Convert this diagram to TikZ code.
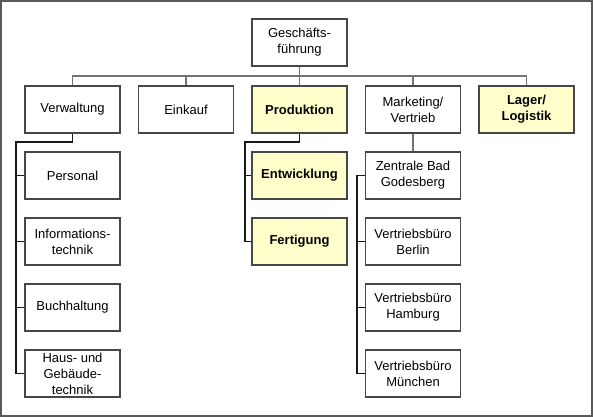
\documentclass[tikz,border=0pt]{standalone}
\usepackage{fontspec}
\setmainfont{Liberation Sans}
\usepackage{xcolor}
\definecolor{paleyellow}{HTML}{FFFFCC}

\tikzset{
  unitbox/.style={draw=black!72, line width=1.4pt, fill=white, minimum width=95pt,
    minimum height=47pt, inner sep=1pt, align=center,
    font=\fontsize{13}{16}\selectfont},
  keybox/.style={unitbox, fill=paleyellow, font=\fontsize{13}{16}\selectfont\bfseries},
  busline/.style={draw=black!55, line width=1.1pt},
  treeline/.style={draw=black!90, line width=1.3pt}
}

\begin{document}
\begin{tikzpicture}[x=1pt,y=-1pt]
    \useasboundingbox (0,0) rectangle (593,417);
    \draw[black!65, line width=1.2pt] (1,1) rectangle (592,416);

    %% top
    \node[unitbox] (gf) at (299.5,42.5) {Gesch\"afts-\\f\"uhrung};

    %% level 1
    \node[unitbox] (verw)  at (72.5,109.5)  {Verwaltung};
    \node[unitbox] (eink)  at (186,109.5)   {Einkauf};
    \node[keybox]  (prod)  at (299.5,109.5) {Produktion};
    \node[unitbox] (mark)  at (413,109.5)   {Marketing/\\Vertrieb};
    \node[keybox]  (lager) at (526.5,109.5) {Lager/\\Logistik};

    %% Verwaltung
    \node[unitbox] (pers) at (72.5,175.5) {Personal};
    \node[unitbox] (info) at (72.5,241.5) {Informations-\\technik};
    \node[unitbox] (buch) at (72.5,307.5) {Buchhaltung};
    \node[unitbox] (haus) at (72.5,373.5) {Haus- und\\Geb\"aude-\\technik};

    %% Produktion
    \node[keybox] (entw) at (299.5,175.5) {Entwicklung};
    \node[keybox] (fert) at (299.5,241.5) {Fertigung};

    %% Marketing/Vertrieb
    \node[unitbox] (zent) at (413,175.5) {Zentrale Bad\\Godesberg};
    \node[unitbox] (berl) at (413,241.5) {Vertriebsb\"uro\\Berlin};
    \node[unitbox] (hamb) at (413,307.5) {Vertriebsb\"uro\\Hamburg};
    \node[unitbox] (muen) at (413,373.5) {Vertriebsb\"uro\\M\"unchen};

    %% bus
    \coordinate (bus) at (299.5,76);
    \draw[busline] (gf.south) -- (bus);
    \draw[busline] (bus) -| (verw.north);
    \draw[busline] (bus) -| (eink.north);
    \draw[busline] (bus) -- (prod.north);
    \draw[busline] (bus) -| (mark.north);
    \draw[busline] (bus) -| (lager.north);

    %% Verwaltung tree
    \coordinate (verwtr) at (16,142);
    \draw[treeline] (verw.south) |- (verwtr) -- (verwtr |- haus.west) -- (haus.west);
    \draw[treeline] (verwtr |- pers.west) -- (pers.west);
    \draw[treeline] (verwtr |- info.west) -- (info.west);
    \draw[treeline] (verwtr |- buch.west) -- (buch.west);

    %% Produktion tree
    \coordinate (prodtr) at (245,142);
    \draw[treeline] (prod.south) |- (prodtr) -- (prodtr |- fert.west) -- (fert.west);
    \draw[treeline] (prodtr |- entw.west) -- (entw.west);

    %% Marketing tree
    \draw[busline] (mark.south) -- (zent.north);
    \coordinate (zenttr) at (357,175.5);
    \draw[treeline] (zent.west) -- (zenttr) -- (zenttr |- muen.west) -- (muen.west);
    \draw[treeline] (zenttr |- berl.west) -- (berl.west);
    \draw[treeline] (zenttr |- hamb.west) -- (hamb.west);

\end{tikzpicture}
\end{document}
